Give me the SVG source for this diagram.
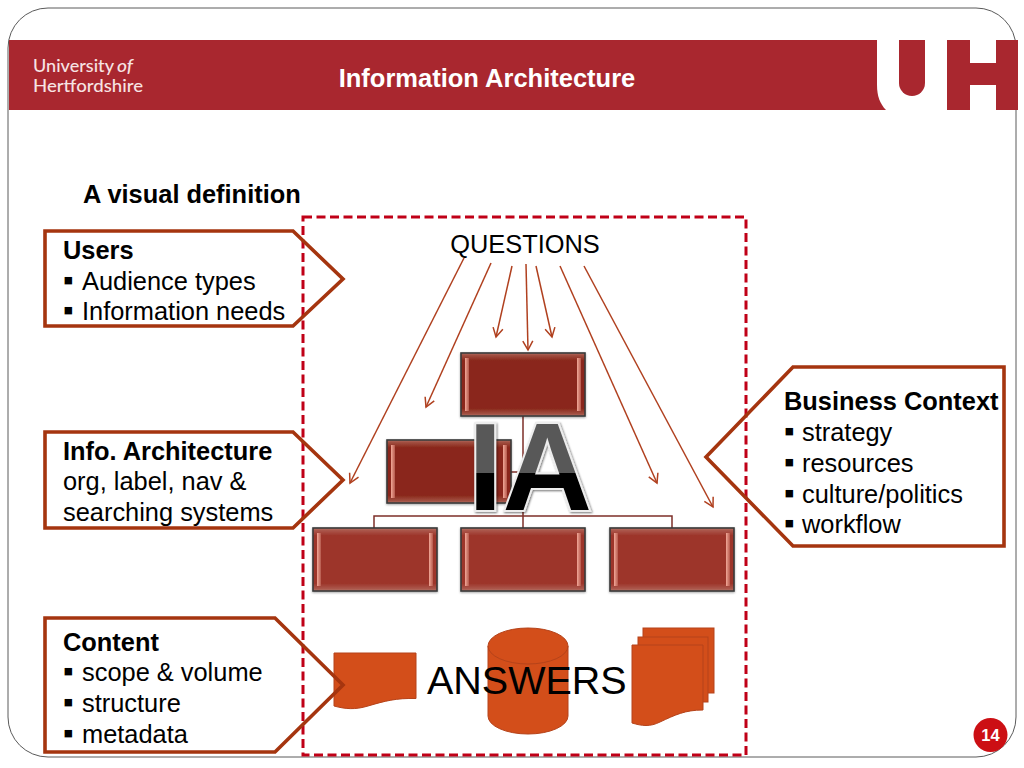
<svg xmlns="http://www.w3.org/2000/svg" width="1024" height="768" viewBox="0 0 1024 768">
<style>
text{font-family:"Liberation Sans",Arial,sans-serif}
.t{font-size:25.4px;fill:#000}
.b{font-weight:bold}
.m{font-size:30px}
.pent{fill:none;stroke:#A5350F;stroke-width:3.6}
.arr{fill:none;stroke:#B0401F;stroke-width:1.5;marker-end:url(#open)}
.box{stroke:#3A3A3A;stroke-width:1.6;filter:url(#bs)}
.top{fill:url(#dark)}
.bot{fill:url(#lite)}
.bev{fill:url(#bevel)}
.org{fill:none;stroke:#7E2F28;stroke-width:1.5}
.doc{fill:#D34E1A;stroke:#B5431A;stroke-width:1}
.logo{font-family:Lato,"Open Sans",sans-serif;font-size:16.5px;font-weight:500;fill:#F7E3E3}
</style>
<defs>
<marker id="open" markerUnits="userSpaceOnUse" markerWidth="14" markerHeight="14" refX="11" refY="7" orient="auto">
<path d="M2 2 L11 7 L2 12" fill="none" stroke="#B0401F" stroke-width="1.5"/>
</marker>
<linearGradient id="dark" x1="0" y1="0" x2="0" y2="1">
<stop offset="0" stop-color="#B77A70"/><stop offset=".03" stop-color="#A35245"/><stop offset=".12" stop-color="#8A281A"/><stop offset=".88" stop-color="#8A281A"/><stop offset=".97" stop-color="#A35245"/><stop offset="1" stop-color="#B77A70"/>
</linearGradient>
<linearGradient id="lite" x1="0" y1="0" x2="0" y2="1">
<stop offset="0" stop-color="#BD8076"/><stop offset=".03" stop-color="#AC5A4E"/><stop offset=".12" stop-color="#9D362A"/><stop offset=".88" stop-color="#9D362A"/><stop offset=".97" stop-color="#AC5A4E"/><stop offset="1" stop-color="#BD8076"/>
</linearGradient>
<linearGradient id="bevel" x1="0" y1="0" x2="1" y2="0">
<stop offset="0" stop-color="#F2A898"/><stop offset="1" stop-color="#B5594C"/>
</linearGradient>
<linearGradient id="ia" gradientUnits="userSpaceOnUse" x1="0" y1="421" x2="0" y2="510">
<stop offset="0" stop-color="#595959"/><stop offset=".585" stop-color="#595959"/><stop offset=".585" stop-color="#000"/><stop offset="1" stop-color="#000"/>
</linearGradient>
<filter id="sh" x="-10%" y="-10%" width="120%" height="120%"><feDropShadow dx="1" dy="1" stdDeviation="1.2" flood-color="#000" flood-opacity=".55"/></filter>
<filter id="bs" x="-5%" y="-5%" width="110%" height="115%"><feDropShadow dx="0" dy="1" stdDeviation="1" flood-color="#000" flood-opacity=".35"/></filter>
</defs>
<rect width="1024" height="768" fill="#fff"/>
<rect x="8" y="8" width="1008" height="749" rx="40" ry="40" fill="#fff" stroke="#5A5A5A" stroke-width="1"/>
<g id="header">
<rect x="9" y="40" width="1009" height="70" fill="#A9272F"/>
<path d="M877 40 H947 V110 H886 C880 104 877 96 877 85 Z" fill="#fff"/>
<path d="M899 40 H925 V83 A13 13 0 0 1 899 83 Z" fill="#A9272F"/>
<rect x="970" y="40" width="26" height="23" fill="#fff"/>
<rect x="970" y="85" width="26" height="25" fill="#fff"/>
<text class="logo" x="33" y="72" textLength="81" lengthAdjust="spacingAndGlyphs">University</text>
<text class="logo" x="117" y="72" font-style="italic" textLength="16" lengthAdjust="spacingAndGlyphs">of</text>
<text class="logo" x="33" y="92" textLength="110" lengthAdjust="spacingAndGlyphs">Hertfordshire</text>
<text x="487" y="87" font-size="25.5" font-weight="bold" fill="#fff" text-anchor="middle">Information Architecture</text>
</g>
<text id="heading" class="t b" x="83" y="203">A visual definition</text>
<rect id="frame" x="303" y="217" width="443" height="538" fill="none" stroke="#C00017" stroke-width="3" stroke-dasharray="9 4.5"/>
<g id="questions"><text class="t" x="525" y="253" text-anchor="middle">QUESTIONS</text></g>
<g id="org-lines">
<path class="org" d="M523 416 V528 M374 528 V516 H672 V528 M511 472 H523"/>
</g>
<g id="box-top"><rect class="box top" x="461" y="353" width="124" height="63"/><rect class="bev" x="465" y="358" width="4" height="53"/><rect class="bev" x="577" y="358" width="4" height="53"/></g>
<g id="box-mid"><rect class="box top" x="387" y="440" width="124" height="63"/><rect class="bev" x="391" y="445" width="4" height="53"/><rect class="bev" x="503" y="445" width="4" height="53"/></g>
<g id="box-left"><rect class="box bot" x="313" y="528" width="124" height="63"/><rect class="bev" x="317" y="533" width="4" height="53"/><rect class="bev" x="429" y="533" width="4" height="53"/></g>
<g id="box-center"><rect class="box bot" x="461" y="528" width="124" height="63"/><rect class="bev" x="465" y="533" width="4" height="53"/><rect class="bev" x="577" y="533" width="4" height="53"/></g>
<g id="box-right"><rect class="box bot" x="610" y="528" width="124" height="63"/><rect class="bev" x="614" y="533" width="4" height="53"/><rect class="bev" x="726" y="533" width="4" height="53"/></g>
<g id="ia-label"><text x="468" y="510" font-size="124" font-weight="bold" fill="url(#ia)" stroke="#EDEDED" stroke-width="4" paint-order="stroke" filter="url(#sh)">IA</text></g>
<g id="connectors">
<line class="arr" x1="464" y1="258" x2="350" y2="483"/>
<line class="arr" x1="491" y1="263" x2="426" y2="407"/>
<line class="arr" x1="512" y1="266" x2="496" y2="337"/>
<line class="arr" x1="526" y1="264" x2="528" y2="350"/>
<line class="arr" x1="536" y1="266" x2="552" y2="337"/>
<line class="arr" x1="560" y1="266" x2="657" y2="483"/>
<line class="arr" x1="584" y1="266" x2="713" y2="507"/>
</g>
<g id="doc-single"><path class="doc" d="M334 653 H416 V698.5 C396 698 385 701 368 706 C355 710 345 709 334 706 Z"/></g>
<g id="database">
<path class="doc" d="M488 646 A40 18 0 0 1 568 646 V716 A40 18 0 0 1 488 716 Z"/>
<path class="doc" d="M488 646 A40 18 0 0 0 568 646"/>
</g>
<g id="doc-multi">
<rect class="doc" x="643" y="628" width="71" height="65"/>
<rect class="doc" x="638" y="637" width="70" height="65"/>
<path class="doc" d="M632 645 H703 V710 C685 710 675 715 660 722 C650 727 642 726 632 723 Z"/>
</g>
<text id="answers" x="427" y="694" font-size="39.5" fill="#000">ANSWERS</text>
<g id="users">
<polygon class="pent" points="45,231 293,231 343,279 293,326 45,326"/>
<text class="t b" x="63" y="259">Users</text>
<text class="t" y="290"><tspan class="m" x="63">▪</tspan><tspan x="82">Audience types</tspan></text>
<text class="t" y="320"><tspan class="m" x="63">▪</tspan><tspan x="82">Information needs</tspan></text>
</g>
<g id="info-arch">
<polygon class="pent" points="45,432 293,432 343,480 293,528 45,528"/>
<text class="t b" x="63" y="460">Info. Architecture</text>
<text class="t" x="63" y="490">org, label, nav &amp;</text>
<text class="t" x="63" y="521">searching systems</text>
</g>
<g id="content">
<polygon class="pent" points="45,618 275,618 343,685 275,752 45,752"/>
<text class="t b" x="63" y="651">Content</text>
<text class="t" y="681"><tspan class="m" x="63">▪</tspan><tspan x="82">scope &amp; volume</tspan></text>
<text class="t" y="712"><tspan class="m" x="63">▪</tspan><tspan x="82">structure</tspan></text>
<text class="t" y="743"><tspan class="m" x="63">▪</tspan><tspan x="82">metadata</tspan></text>
</g>
<g id="business">
<polygon class="pent" points="1004,367 793,367 706,457 793,546 1004,546"/>
<text class="t b" x="784" y="410">Business Context</text>
<text class="t" y="441"><tspan class="m" x="784">▪</tspan><tspan x="802">strategy</tspan></text>
<text class="t" y="472"><tspan class="m" x="784">▪</tspan><tspan x="802">resources</tspan></text>
<text class="t" y="503"><tspan class="m" x="784">▪</tspan><tspan x="802">culture/politics</tspan></text>
<text class="t" y="533"><tspan class="m" x="784">▪</tspan><tspan x="802">workflow</tspan></text>
</g>
<g id="page"><circle cx="990.5" cy="735" r="17" fill="#CC0F14"/><text x="990.5" y="741" font-size="16.5" font-weight="bold" fill="#fff" text-anchor="middle">14</text></g>
</svg>
